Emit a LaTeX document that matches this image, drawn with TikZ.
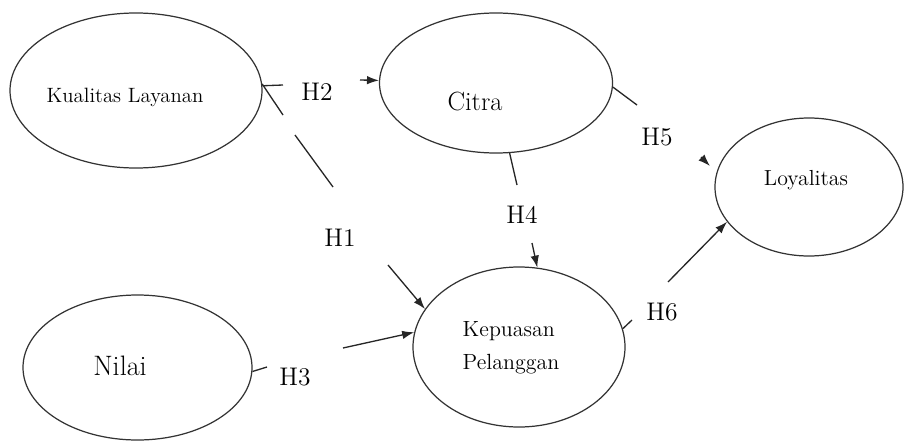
\documentclass[tikz,border=0pt]{standalone}
\usepackage{tikz}
\usetikzlibrary{shapes.geometric, arrows.meta}

\begin{document}
\begin{tikzpicture}[scale=1.0, >={Latex[length=2.4mm, width=1.7mm]},
      konstruk/.style={ellipse, draw=black!80, line width=0.7pt, inner sep=0pt},
      hip/.style={font=\fontsize{14.5}{17}\selectfont},
      panah/.style={line width=0.75pt, draw=black!85}]
      %\draw [dotted] (0,0) grid (18,9);
      \useasboundingbox (0,0) rectangle (18.12,8.82);
      % konstruk
      \node [konstruk, minimum width=5.04cm, minimum height=3.10cm]  (kl) at ( 2.72,  7.01) {};
      \node [konstruk, minimum width=4.66cm, minimum height=2.80cm]  (ci) at ( 9.92,  7.16) {};
      \node [konstruk, minimum width=3.76cm, minimum height=2.76cm]  (ly) at (16.18,  5.08) {};
      \node [konstruk, minimum width=4.58cm, minimum height=2.90cm]  (ni) at ( 2.75,  1.47) {};
      \node [konstruk, minimum width=4.24cm, minimum height=3.20cm]  (kp) at (10.38,  1.88) {};
      % teks
      \node [font=\fontsize{11.8}{14}\selectfont]  (tkl) at ( 2.50,  6.88) {Kualitas Layanan};
      \node [font=\fontsize{15}{18}\selectfont]    (tci) at ( 9.50,  6.80) {Citra};
      \node [font=\fontsize{12.4}{15}\selectfont]  (tly) at (16.12,  5.22) {Loyalitas};
      \node [font=\fontsize{16}{19}\selectfont]    (tni) at ( 2.40,  1.50) {Nilai};
      \node [font=\fontsize{12.5}{19}\selectfont, align=left] (tkp) at (10.22,  1.86) {Kepuasan\\Pelanggan};
      % label hipotesis
      \node [hip]  (H2) at ( 6.34,  6.98) {H2};
      \node [hip]  (H1) at ( 6.80,  4.06) {H1};
      \node [hip]  (H3) at ( 5.90,  1.28) {H3};
      \node [hip]  (H4) at (10.44,  4.52) {H4};
      \node [hip]  (H5) at (13.14,  6.08) {H5};
      \node [hip]  (H6) at (13.24,  2.58) {H6};
      % titik putus garis
      \coordinate (h2a) at ( 5.66,  7.12);
      \coordinate (h2b) at ( 7.20,  7.22);
      \coordinate (h1a) at ( 5.66,  6.52);
      \coordinate (h1b) at ( 5.90,  6.12);
      \coordinate (h1c) at ( 6.66,  5.08);
      \coordinate (h1d) at ( 7.76,  3.52);
      \coordinate (h3a) at ( 5.34,  1.48);
      \coordinate (h3b) at ( 6.86,  1.86);
      \coordinate (h4a) at (10.34,  5.12);
      \coordinate (h4b) at (10.64,  3.96);
      \coordinate (h5a) at (12.74,  6.72);
      \coordinate (h5b) at (14.02,  5.68);
      \coordinate (h5c) at (14.20,  5.50);
      \coordinate (h6a) at (12.64,  2.42);
      \coordinate (h6b) at (13.36,  3.18);
      % hubungan
      \draw [panah]     (kl)     -- (h2a);
      \draw [panah, ->] (h2b)    -- (ci);
      \draw [panah]     (kl.3)   -- (h1a);
      \draw [panah]     (h1b)    -- (h1c);
      \draw [panah, ->] (h1d)    -- (kp.158);
      \draw [panah]     (ni.-2)  -- (h3a);
      \draw [panah, ->] (h3b)    -- (kp.172);
      \draw [panah]     (ci.-79) -- (h4a);
      \draw [panah, ->] (h4b)    -- (kp.77);
      \draw [panah]     (ci.-2)  -- (h5a);
      \draw [panah, ->] (h5b)    -- (h5c);
      \draw [panah]     (kp.10)  -- (h6a);
      \draw [panah, ->] (h6b)    -- (ly.203);
\end{tikzpicture}
\end{document}
